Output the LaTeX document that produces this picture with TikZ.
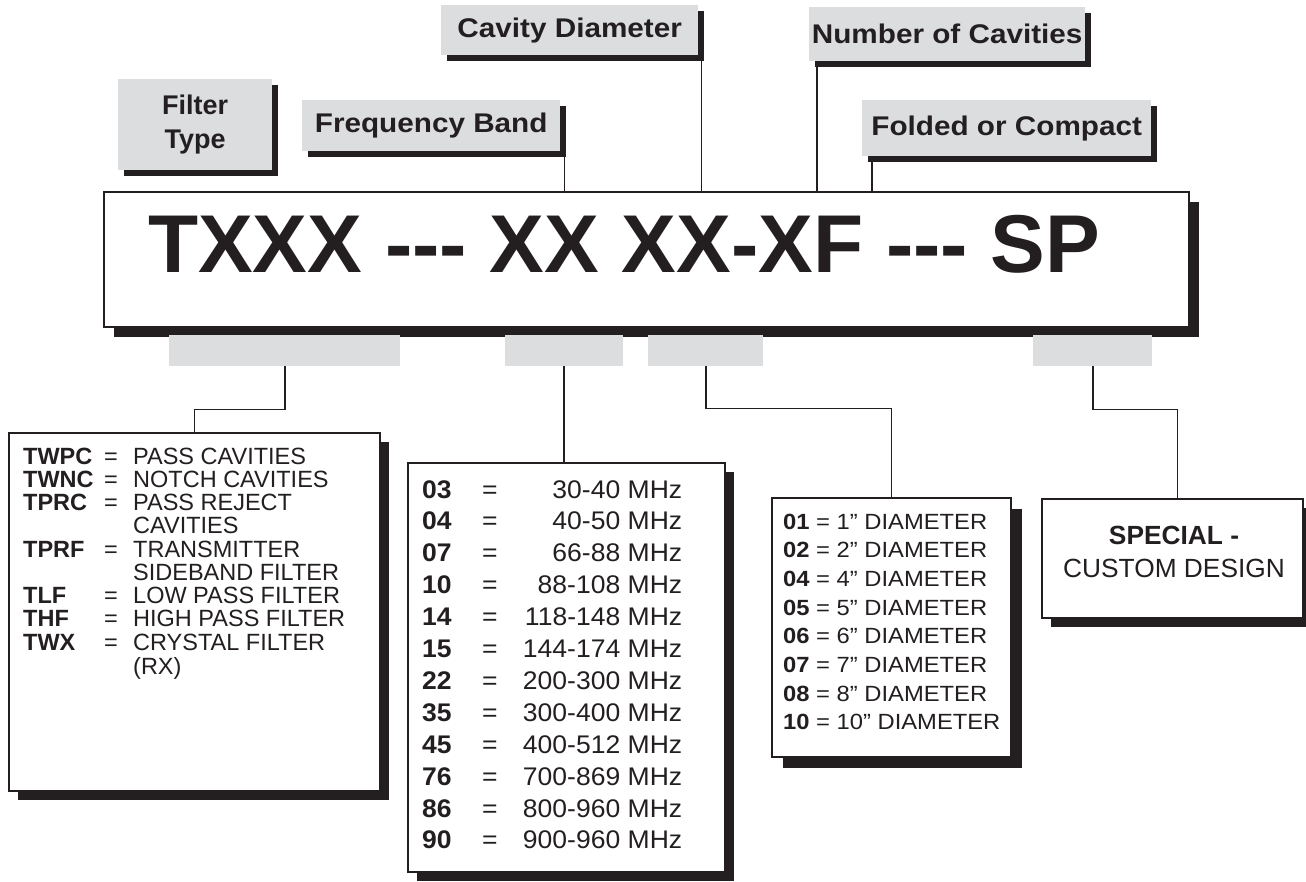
\documentclass[tikz,border=0pt]{standalone}
\usepackage{fontspec}
\setmainfont{Liberation Sans}
\newfontfamily\tagfont{Liberation Sans}[FakeStretch=1.1]
\newfontfamily\bandfont{Liberation Sans}[FakeStretch=1.04]
\newfontfamily\diamfont{Liberation Sans}[FakeStretch=1.08]
\usetikzlibrary{shadows}

\definecolor{ink}{HTML}{231F20}
\definecolor{tabgray}{HTML}{DCDDDF}

\newcommand{\trow}[2]{\makebox[81pt][l]{\bfseries #1}\makebox[29pt][l]{=}#2}
\newcommand{\tcont}[1]{\hspace*{110pt}#1}
\newcommand{\brow}[2]{\makebox[60pt][l]{\bfseries #1}\rlap{=}\makebox[200pt][r]{#2}}

\tikzset{
	tag/.style={fill=tabgray, inner sep=0pt, anchor=north west, text=ink,
		font=\tagfont\fontsize{27}{34}\selectfont\bfseries,
		drop shadow={shadow xshift=6pt, shadow yshift=-6pt, fill=ink, opacity=1}},
	tab/.style={fill=tabgray, inner sep=0pt, anchor=north west, minimum height=31pt},
	card/.style={draw=ink, line width=1.6pt, fill=white, inner sep=0pt, anchor=north west,
		drop shadow={shadow xshift=#1, shadow yshift=-#1, fill=ink, opacity=1}},
	card/.default=9pt,
	lead/.style={draw=ink, line width=1.6pt},
	txt/.style={inner sep=0pt, anchor=base west, text=ink},
}

\begin{document}
\begin{tikzpicture}[x=1pt, y=-1pt]
	\useasboundingbox (0,0) rectangle (1306,882);

	% labels on top
	\node [tag, font=\fontsize{27}{34}\selectfont\bfseries, align=center,
		minimum width=154pt, minimum height=91pt] (type) at (118,79) {Filter\\Type};
	\node [tag, minimum width=258pt, minimum height=51pt] (band) at (302,100) {Frequency Band};
	\node [tag, minimum width=257pt, minimum height=50pt] (diam) at (441,5) {Cavity Diameter};
	\node [tag, minimum width=276pt, minimum height=54pt] (num) at (809,7) {Number of Cavities};
	\node [tag, minimum width=289pt, minimum height=56pt] (fold) at (862,100) {Folded or Compact};

	% model number
	\node [card=10pt, minimum width=1085pt, minimum height=135pt] (model) at (103,191) {};
	\node [txt, font=\fontsize{82}{82}\selectfont\bfseries] (modeltxt) at (148,273)
		{TXXX -\kern0pt-\kern0pt- XX XX-XF -\kern0pt-\kern0pt- SP};

	\draw [lead] ([xshift=4pt]band.south east) -- ([xshift=4pt]band.south east |- model.north);
	\draw [lead] ([xshift=3pt]diam.south east) -- ([xshift=3pt]diam.south east |- model.north);
	\draw [lead] ([xshift=8pt]num.south west) -- ([xshift=8pt]num.south west |- model.north);
	\draw [lead] ([xshift=10pt]fold.south west) -- ([xshift=10pt]fold.south west |- model.north);

	% tabs under the model number
	\node [tab, minimum width=231pt] (ta) at (169,335) {};
	\node [tab, minimum width=118pt] (tb) at (505,335) {};
	\node [tab, minimum width=115pt] (tc) at (648,335) {};
	\node [tab, minimum width=119pt] (td) at (1033,335) {};

	% code tables
	\node [card, minimum width=371pt, minimum height=358pt] (typebox) at (8,432) {};
	\node [card, minimum width=317pt, minimum height=409pt] (bandbox) at (407,462) {};
	\node [card=11pt, minimum width=239pt, minimum height=259pt] (diambox) at (771,497) {};
	\node [card, minimum width=261pt, minimum height=119pt] (specbox) at (1041,498) {};

	\draw [lead] (ta.south) -- ++(0,43) -| (typebox.north);
	\draw [lead] (tb.south) -- (tb.south |- bandbox.north);
	\draw [lead] (tc.south) -- ++(0,42) -| (diambox.north);
	\draw [lead] (td.south) -- ++(0,43) -| ([xshift=5pt]specbox.north);

	\node [txt, font=\fontsize{23.5}{22.9}\selectfont] (typetxt) at (23,464) {%
		\begin{tabular}[t]{@{}l@{}}
			\trow{TWPC}{PASS CAVITIES}\\
			\trow{TWNC}{NOTCH CAVITIES}\\
			\trow{TPRC}{PASS REJECT}\\
			\tcont{CAVITIES}\\
			\trow{TPRF}{TRANSMITTER}\\
			\tcont{SIDEBAND FILTER}\\
			\trow{TLF}{LOW PASS FILTER}\\
			\trow{THF}{HIGH PASS FILTER}\\
			\trow{TWX}{CRYSTAL FILTER}\\
			\tcont{(RX)}
		\end{tabular}};

	\node [txt, font=\bandfont\fontsize{25.5}{31.9}\selectfont] (bandtxt) at (422,498) {%
		\begin{tabular}[t]{@{}l@{}}
			\brow{03}{30-40 MHz}\\
			\brow{04}{40-50 MHz}\\
			\brow{07}{66-88 MHz}\\
			\brow{10}{88-108 MHz}\\
			\brow{14}{118-148 MHz}\\
			\brow{15}{144-174 MHz}\\
			\brow{22}{200-300 MHz}\\
			\brow{35}{300-400 MHz}\\
			\brow{45}{400-512 MHz}\\
			\brow{76}{700-869 MHz}\\
			\brow{86}{800-960 MHz}\\
			\brow{90}{900-960 MHz}
		\end{tabular}};

	\node [txt, font=\diamfont\fontsize{22}{28.7}\selectfont] (diamtxt) at (783,529) {%
		\begin{tabular}[t]{@{}l@{}}
			\textbf{01} = 1” DIAMETER\\
			\textbf{02} = 2” DIAMETER\\
			\textbf{04} = 4” DIAMETER\\
			\textbf{05} = 5” DIAMETER\\
			\textbf{06} = 6” DIAMETER\\
			\textbf{07} = 7” DIAMETER\\
			\textbf{08} = 8” DIAMETER\\
			\textbf{10} = 10” DIAMETER
		\end{tabular}};

	\node [txt, anchor=base, font=\fontsize{26.3}{33}\selectfont] (spectxt) at (1174,544) {%
		\begin{tabular}[t]{@{}c@{}}
			\textbf{SPECIAL -}\\
			CUSTOM DESIGN
		\end{tabular}};

\end{tikzpicture}
\end{document}
